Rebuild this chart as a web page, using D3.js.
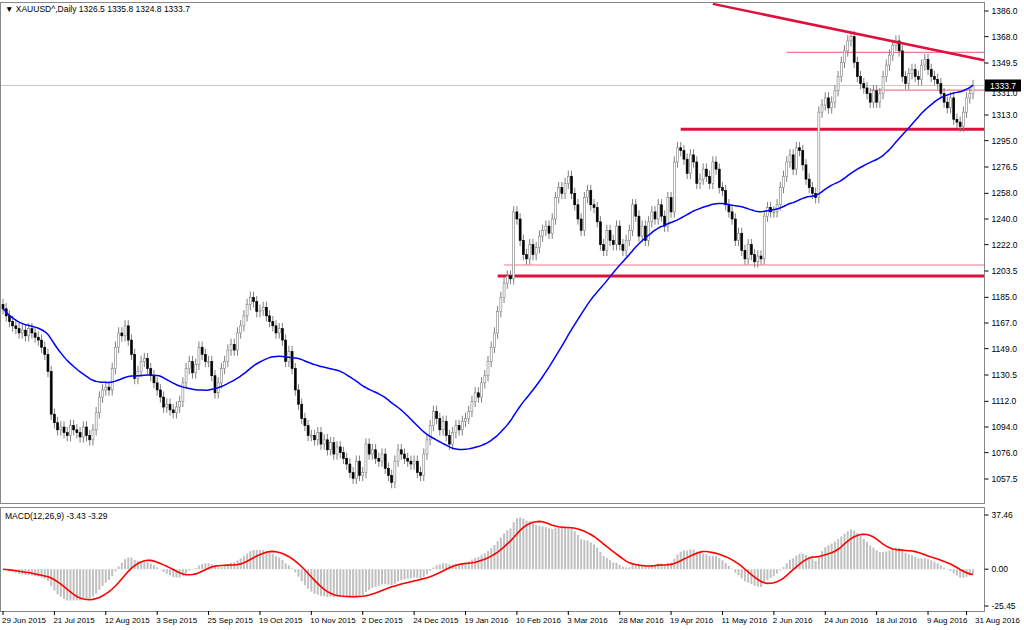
<!DOCTYPE html>
<html>
<head>
<meta charset="utf-8">
<title>XAUUSD Daily</title>
<script src="https://cdn.jsdelivr.net/npm/d3@7/dist/d3.min.js"></script>
<style>
body { margin: 0; background: #fff; }
text { font-family: "Liberation Sans", Arial, sans-serif; font-size: 8.5px; fill: #000; }
</style>
</head>
<body>
<script>

// daily closes, 16 bars per date label
var closes = [
  1177,1172,1168,1165,1163,1160,1162,1158,1163,1160,1157,1155,1150,1145,1133,1103,
  1097,1092,1094,1090,1088,1095,1092,1090,1087,1094,1088,1085,1092,1104,1115,1120,
  1122,1120,1135,1150,1160,1158,1165,1155,1145,1128,1133,1140,1142,1135,1130,1125,
  1120,1115,1108,1110,1106,1104,1108,1112,1125,1135,1140,1132,1138,1150,1145,1140,
  1140,1130,1118,1125,1135,1140,1148,1152,1148,1160,1165,1172,1180,1185,1182,1175,
  1176,1178,1172,1168,1165,1160,1163,1155,1140,1147,1135,1120,1110,1100,1095,1088,
  1088,1085,1090,1082,1085,1078,1083,1075,1080,1076,1072,1068,1062,1058,1070,1060,
  1062,1082,1075,1078,1072,1070,1075,1065,1060,1055,1070,1078,1075,1072,1070,1068,
  1070,1062,1060,1075,1085,1095,1105,1100,1092,1098,1088,1082,1090,1095,1092,1098,
  1100,1105,1112,1118,1115,1125,1130,1140,1150,1160,1175,1185,1195,1200,1198,1245,
  1240,1225,1215,1212,1222,1215,1220,1228,1232,1235,1230,1240,1255,1262,1258,1265,
  1270,1258,1250,1240,1232,1255,1260,1250,1248,1238,1222,1218,1232,1225,1222,1235,
  1222,1218,1225,1232,1250,1242,1228,1235,1225,1238,1245,1240,1250,1242,1235,1255,
  1245,1280,1290,1288,1282,1272,1285,1280,1265,1268,1275,1270,1265,1280,1275,1262,
  1260,1250,1245,1240,1225,1230,1218,1212,1222,1215,1210,1214,1212,1242,1248,1245,
  1245,1250,1262,1270,1280,1285,1275,1290,1288,1278,1268,1262,1258,1255,1315,1320,
  1325,1318,1322,1330,1340,1350,1358,1365,1368,1350,1340,1335,1332,1328,1322,1330,
  1322,1328,1340,1348,1355,1362,1365,1358,1340,1335,1342,1345,1340,1338,1348,1352,
  1345,1340,1338,1335,1328,1322,1318,1325,1310,1308,1305,1315,1325,1328,1333.7
];
var firstOpen = 1180;

var dateLabels = ["29 Jun 2015","21 Jul 2015","12 Aug 2015","3 Sep 2015","25 Sep 2015",
  "19 Oct 2015","10 Nov 2015","2 Dec 2015","24 Dec 2015","19 Jan 2016","10 Feb 2016",
  "3 Mar 2016","28 Mar 2016","19 Apr 2016","11 May 2016","2 Jun 2016","24 Jun 2016",
  "18 Jul 2016","9 Aug 2016","31 Aug 2016"];
var dateIndex = [0,16,32,48,64,80,96,112,128,144,160,176,192,208,224,240,256,272,288,300];

var priceTicks = [1386.0,1368.0,1349.5,1331.0,1313.0,1295.0,1276.5,1258.0,1240.0,1222.0,
  1203.5,1185.0,1167.0,1149.0,1130.5,1112.0,1094.0,1076.0,1057.5];
var macdTicks = [37.46, 0.00, -25.45];

// support / resistance levels drawn on the chart: [price, startBar, thick]
var levels = [[1200, 154, true], [1207.7, 156, false], [1303, 211, true],
  [1357, 244, false], [1330.5, 270, false]];
var trendLine = [[221, 1391], [303, 1352.5]];
var lastPrice = 1333.7;

var w = 1024, h = 630;
var plotR = 984;
var svg = d3.select("body").append("svg").attr("width", w).attr("height", h);

var x = d3.scaleLinear().domain([0, closes.length - 1]).range([3, 973]);
var y = d3.scaleLinear().domain([1057.5, 1386]).range([479, 11]);

// OHLC from consecutive closes
var bars = closes.map(function(c, i) {
  var o = i === 0 ? firstOpen : closes[i - 1];
  return { i: i, o: o, c: c, hi: Math.max(o, c) + 4, lo: Math.min(o, c) - 4 };
});

// SMA(50)
var ma = closes.map(function(c, i) {
  var s = closes.slice(Math.max(0, i - 49), i + 1);
  return d3.mean(s);
});

// MACD(12,26,9)
function ema(arr, n) {
  var k = 2 / (n + 1), out = [], prev = arr[0];
  arr.forEach(function(v) { prev = v * k + prev * (1 - k); out.push(prev); });
  return out;
}
var e12 = ema(closes, 12), e26 = ema(closes, 26);
var macd = closes.map(function(c, i) { return e12[i] - e26[i]; });
var signal = macd.map(function(v, i) {
  return d3.mean(macd.slice(Math.max(0, i - 8), i + 1));
});

// frames
svg.append("rect").attr("x", 0.5).attr("y", 2.5).attr("width", plotR).attr("height", 501)
  .attr("fill", "none").attr("stroke", "#888");
svg.append("rect").attr("x", 0.5).attr("y", 507.5).attr("width", plotR).attr("height", 104)
  .attr("fill", "none").attr("stroke", "#888");

// price axis
var yAxis = svg.append("g").attr("transform", "translate(" + (plotR + 0.5) + ",0)");
priceTicks.forEach(function(t) {
  yAxis.append("line").attr("x1", 0).attr("x2", 4).attr("y1", y(t)).attr("y2", y(t)).attr("stroke", "#000");
  yAxis.append("text").attr("x", 7).attr("y", y(t) + (t === 1331 ? 7 : 3)).text(t.toFixed(1));
});

// current price line
svg.append("line").attr("x1", 1).attr("x2", plotR).attr("y1", y(lastPrice)).attr("y2", y(lastPrice))
  .attr("stroke", "#c8c8c8");

// levels
levels.forEach(function(l) {
  svg.append("line").attr("x1", x(l[1])).attr("x2", plotR).attr("y1", y(l[0])).attr("y2", y(l[0]))
    .attr("stroke", l[2] ? "#e0103c" : "#f07890").attr("stroke-width", l[2] ? 3 : 1.2);
});

// candles
var cg = svg.append("g");
cg.selectAll("line.wick").data(bars).enter().append("line")
  .attr("x1", function(d) { return x(d.i); }).attr("x2", function(d) { return x(d.i); })
  .attr("y1", function(d) { return y(d.hi); }).attr("y2", function(d) { return y(d.lo); })
  .attr("stroke", "#808080");
cg.selectAll("rect").data(bars).enter().append("rect")
  .attr("x", function(d) { return x(d.i) - 1; })
  .attr("width", 2)
  .attr("y", function(d) { return y(Math.max(d.o, d.c)); })
  .attr("height", function(d) { return Math.max(1, Math.abs(y(d.o) - y(d.c))); })
  .attr("fill", function(d) { return d.c >= d.o ? "#fff" : "#000"; })
  .attr("stroke", function(d) { return d.c >= d.o ? "#808080" : "#000"; })
  .attr("stroke-width", 0.6);

// moving average
svg.append("path").datum(ma)
  .attr("d", d3.line().x(function(d, i) { return x(i); }).y(function(d) { return y(d); }).curve(d3.curveBasis))
  .attr("fill", "none").attr("stroke", "#0000ff").attr("stroke-width", 1.5);

// trend line
var tx = d3.scaleLinear().domain([trendLine[0][0], trendLine[1][0]]).range([trendLine[0][1], trendLine[1][1]]);
svg.append("line").attr("x1", x(trendLine[0][0])).attr("y1", y(trendLine[0][1]))
  .attr("x2", plotR).attr("y2", y(tx(x.invert(plotR))))
  .attr("stroke", "#e0103c").attr("stroke-width", 2.5);

// last price tag
svg.append("rect").attr("x", plotR + 1).attr("y", y(lastPrice) - 6).attr("width", 36).attr("height", 12).attr("fill", "#000");
svg.append("text").attr("x", plotR + 6).attr("y", y(lastPrice) + 3).style("fill", "#fff").text(lastPrice.toFixed(1));

svg.append("text").attr("x", 5).attr("y", 12).text("\u25BC XAUUSD^,Daily  1326.5 1335.8 1324.8 1333.7");

// MACD panel
var my = d3.scaleLinear().domain([-25.45, 37.46]).range([606, 515]);
svg.append("g").selectAll("line").data(macd).enter().append("line")
  .attr("x1", function(d, i) { return x(i); }).attr("x2", function(d, i) { return x(i); })
  .attr("y1", my(0)).attr("y2", function(d) { return my(d); })
  .attr("stroke", "#c0c0c0").attr("stroke-width", 2);
svg.append("path").datum(signal)
  .attr("d", d3.line().x(function(d, i) { return x(i); }).y(function(d) { return my(d); }))
  .attr("fill", "none").attr("stroke", "#ff0000").attr("stroke-width", 1.6);
var mAxis = svg.append("g").attr("transform", "translate(" + (plotR + 0.5) + ",0)");
macdTicks.forEach(function(t) {
  mAxis.append("line").attr("x1", 0).attr("x2", 4).attr("y1", my(t)).attr("y2", my(t)).attr("stroke", "#000");
  mAxis.append("text").attr("x", 7).attr("y", my(t) + 3).text(t.toFixed(2));
});
svg.append("text").attr("x", 5).attr("y", 519).text("MACD(12,26,9) -3.43 -3.29");

// date axis
dateIndex.forEach(function(di, k) {
  var px = x(di);
  svg.append("line").attr("x1", px).attr("x2", px).attr("y1", 611).attr("y2", 615).attr("stroke", "#000");
  var last = k === dateIndex.length - 1;
  svg.append("text").attr("x", last ? 1020 : px - 1).attr("y", 623)
    .attr("text-anchor", last ? "end" : "start")
    .style("font-size", "8px").text(dateLabels[k]);
});

</script>
</body>
</html>
